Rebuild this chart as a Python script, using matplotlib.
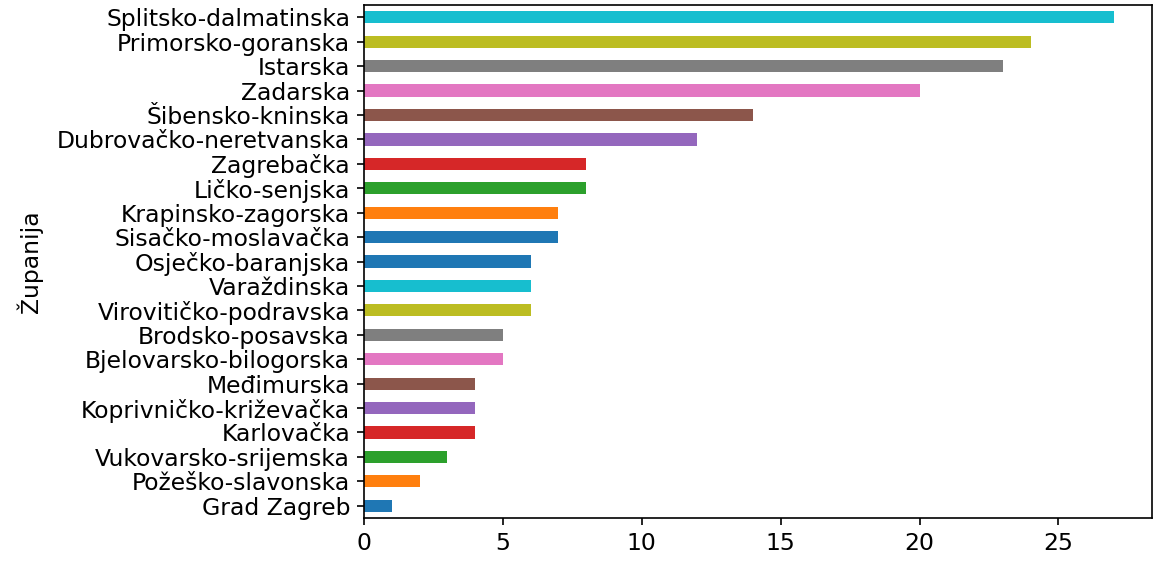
import matplotlib
matplotlib.use("Agg")
import matplotlib.pyplot as plt

# bottom to top
zupanije = ["Grad Zagreb", "Požeško-slavonska", "Vukovarsko-srijemska", "Karlovačka",
            "Koprivničko-križevačka", "Međimurska", "Bjelovarsko-bilogorska",
            "Brodsko-posavska", "Virovitičko-podravska", "Varaždinska",
            "Osječko-baranjska", "Sisačko-moslavačka", "Krapinsko-zagorska",
            "Ličko-senjska", "Zagrebačka", "Dubrovačko-neretvanska",
            "Šibensko-kninska", "Zadarska", "Istarska", "Primorsko-goranska",
            "Splitsko-dalmatinska"]
vrijednosti = [1, 2, 3, 4, 4, 4, 5, 5, 6, 6, 6, 7, 7, 8, 8, 12, 14, 20, 23, 24, 27]

tab = ["#1f77b4", "#ff7f0e", "#2ca02c", "#d62728", "#9467bd",
       "#8c564b", "#e377c2", "#7f7f7f", "#bcbd22", "#17becf"]
colors = [tab[i % 10] for i in range(11)] + [tab[i % 10] for i in range(10)]

fig = plt.figure(figsize=(11.53, 5.63), dpi=100)
ax = fig.add_axes([0.3157, 0.080, 0.683, 0.911])
y = range(len(zupanije))
ax.barh(list(y), vrijednosti, height=0.5, color=colors)
ax.set_yticks(list(y))
ax.set_yticklabels(zupanije)
ax.set_ylim(-0.5, len(zupanije) - 0.5)
ax.set_xlim(0, 27 * 1.05)
ax.set_xticks([0, 5, 10, 15, 20, 25])
ax.tick_params(labelsize=16.9, length=5, width=1.2, pad=5)
ax.set_ylabel("Županija", fontsize=16.9, labelpad=10)
for s in ax.spines.values():
    s.set_linewidth(1.2)
fig.savefig("out.png", dpi=100)
